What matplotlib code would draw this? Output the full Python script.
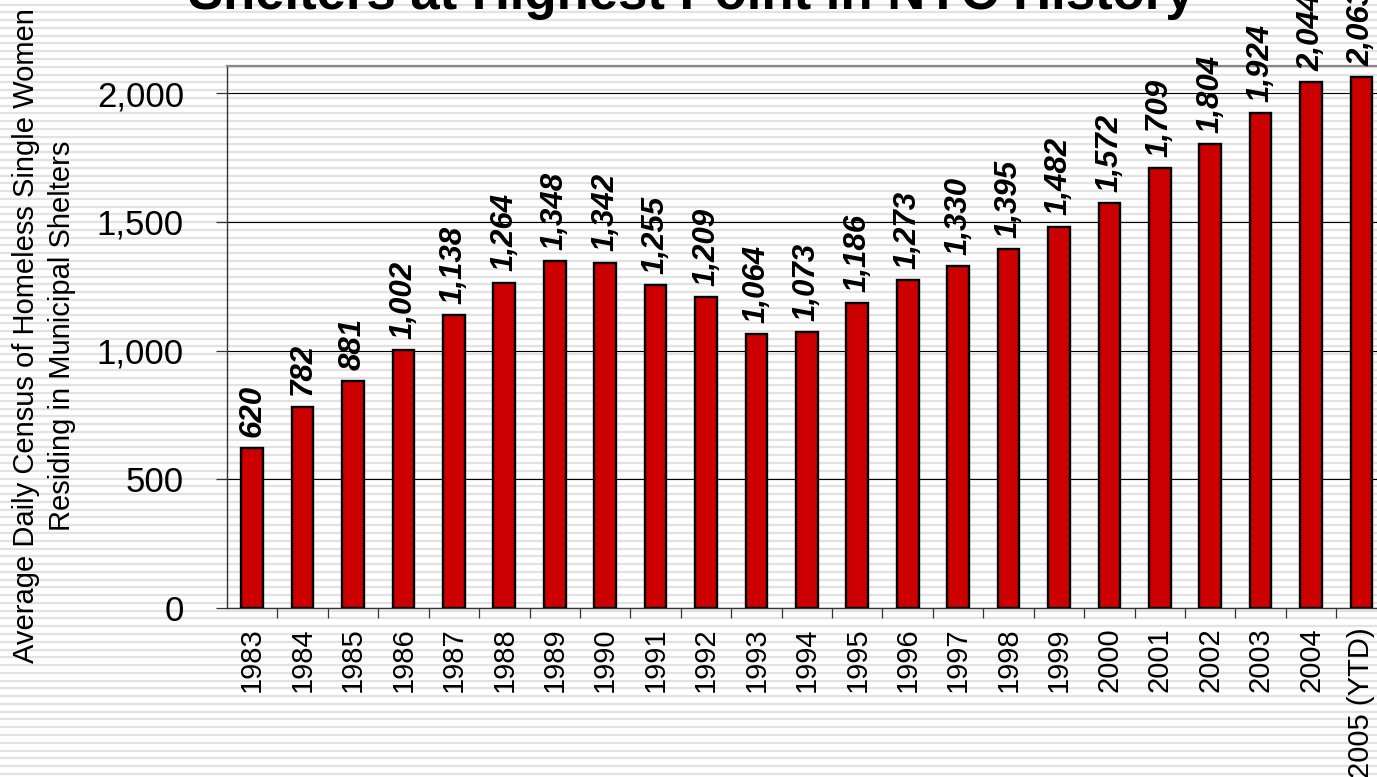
import numpy as np
import matplotlib
matplotlib.use("Agg")
import matplotlib.pyplot as plt
from matplotlib.ticker import FuncFormatter, FixedLocator

plt.rcParams['font.family'] = ['Liberation Sans', 'DejaVu Sans']

years = ['1983', '1984', '1985', '1986', '1987', '1988', '1989', '1990', '1991', '1992',
         '1993', '1994', '1995', '1996', '1997', '1998', '1999', '2000', '2001', '2002',
         '2003', '2004', '2005 (YTD)']
census = [620, 782, 881, 1002, 1138, 1264, 1348, 1342, 1255, 1209,
          1064, 1073, 1186, 1273, 1330, 1395, 1482, 1572, 1709, 1804,
          1924, 2044, 2063]
yticks = [0, 500, 1000, 1500, 2000]

W, H = 1377, 777
fig = plt.figure(figsize=(W / 100, H / 100), dpi=100)
fig.patch.set_facecolor('white')

# striped background
bg = fig.add_axes([0, 0, 1, 1], zorder=-10)
bg.set_xlim(0, W)
bg.set_ylim(H, 0)
bg.axis('off')
stripes = np.arange(4.6, H, 7.77)
bg.hlines(stripes, 0, W, color='#e2e2e2', linewidth=1.6)

# plot area
ax = fig.add_axes([227 / W, (H - 607.7) / H, (1386.7 - 227) / W, (607.7 - 66.3) / H])
ax.patch.set_alpha(0)
x = np.arange(len(years))
ax.bar(x, census, width=0.43, color='#cc0000', edgecolor='black', linewidth=1.7, zorder=3)
ax.set_xlim(-0.5, len(years) - 0.5)
ax.set_ylim(0, 2105)

ax.set_yticks(yticks)
ax.yaxis.set_major_formatter(FuncFormatter(lambda v, p: f"{int(v):,}"))
ax.tick_params(axis='y', direction='out', length=8, width=0.9, pad=23, labelsize=25, color='#333333')
ax.yaxis.grid(True, color='black', linewidth=0.8, zorder=0)
ax.set_axisbelow(True)

ax.set_xticks(x)
ax.set_xticklabels(years, rotation=90, fontsize=21)
ax.tick_params(axis='x', which='major', length=0, pad=14)
ax.xaxis.set_minor_locator(FixedLocator(np.arange(0.5, len(years) - 1, 1.0)))
ax.tick_params(axis='x', which='minor', direction='out', length=7, width=0.9, color='#333333')

for side in ['left', 'bottom']:
    ax.spines[side].set_color('#333333')
    ax.spines[side].set_linewidth(1.0)
for side in ['top', 'right']:
    ax.spines[side].set_color('#888888')
    ax.spines[side].set_linewidth(1.6)

for xi, v in zip(x, census):
    ax.annotate(f"{v:,}", (xi, v), xytext=(0, 8), textcoords='offset points',
                rotation=90, ha='center', va='bottom', fontsize=22.5,
                fontweight='bold', fontstyle='italic', annotation_clip=False)

fig.text(44 / W, 1 - 336 / H,
         "Average Daily Census of Homeless Single Women\nResiding in Municipal Shelters",
         rotation=90, ha='center', va='center', multialignment='center',
         fontsize=21, linespacing=1.35)

fig.text(691 / W, 1 - 9 / H, "Shelters at Highest Point in NYC History",
         ha='center', va='baseline', fontsize=38, fontweight='bold')

fig.savefig('out.png', dpi=100)
